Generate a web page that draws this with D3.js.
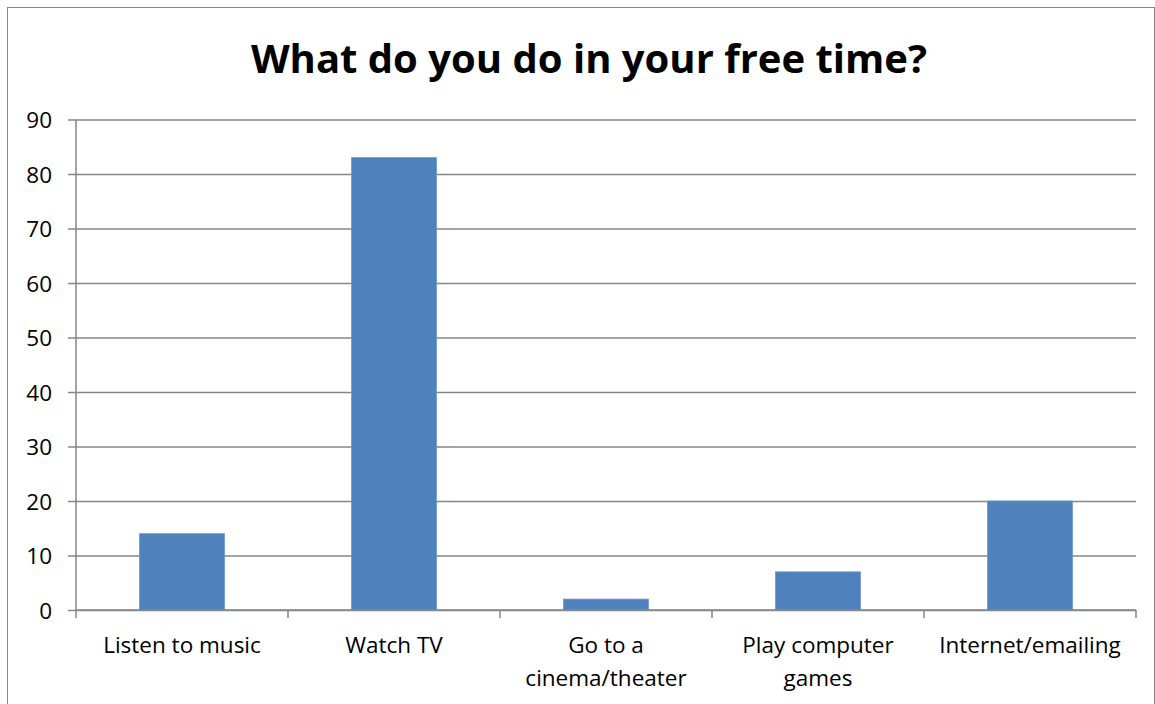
<!DOCTYPE html>
<html>
<head>
<meta charset="utf-8">
<script src="https://cdn.jsdelivr.net/npm/d3@7"></script>
<style>
  html, body { margin: 0; padding: 0; background: #fff; }
  svg { display: block; }
</style>
</head>
<body>
<svg id="chart" width="1155" height="704"></svg>
<script>
// Survey answers: free-time activities
const categories = [
  ["Listen to music"],
  ["Watch TV"],
  ["Go to a", "cinema/theater"],
  ["Play computer", "games"],
  ["Internet/emailing"]
];
const values = [14, 83, 2, 7, 20];
const yTicks = [0, 10, 20, 30, 40, 50, 60, 70, 80, 90];
const title = "What do you do in your free time?";

const svg = d3.select("#chart");
const W = 1155, H = 704;
const margin = { left: 76, right: 19, top: 119.5, bottom: 94 };
const fontFamily = "'Open Sans', 'Noto Sans', sans-serif";
const gridColor = "#868686";
const labelSize = 22.5;

// outer chart frame
svg.append("rect")
  .attr("x", 7.5).attr("y", 7.5)
  .attr("width", W - 8).attr("height", H)
  .attr("fill", "#fff")
  .attr("stroke", gridColor).attr("stroke-width", 1);

const x = d3.scaleBand()
  .domain(d3.range(categories.length))
  .range([margin.left, W - margin.right])
  .paddingInner(0.6).paddingOuter(0.3);

const xEdge = d3.scaleLinear()
  .domain([0, categories.length])
  .range([margin.left, W - margin.right]);

const y = d3.scaleLinear()
  .domain([0, 90])
  .range([H - margin.bottom, margin.top]);

// title
svg.append("text")
  .attr("x", 589).attr("y", 73)
  .attr("text-anchor", "middle")
  .attr("font-family", fontFamily)
  .attr("font-weight", "bold")
  .attr("font-size", 40)
  .attr("fill", "#000")
  .text(title);

// horizontal gridlines with left tick stubs
const yAxis = d3.axisLeft(y)
  .tickValues(yTicks)
  .tickSize(-(W - margin.right - margin.left))
  .tickSizeOuter(0)
  .tickPadding(24)
  .tickFormat(d3.format("d"));

const gY = svg.append("g")
  .attr("transform", `translate(${margin.left},0)`)
  .call(yAxis);
gY.select(".domain").remove();
gY.selectAll(".tick line")
  .attr("x1", -8)
  .attr("stroke", gridColor)
  .attr("stroke-width", 1.5);
gY.selectAll(".tick text")
  .attr("font-family", fontFamily)
  .attr("font-size", labelSize)
  .attr("fill", "#000")
  .attr("dy", "0.36em");

// vertical axis line
svg.append("line")
  .attr("x1", margin.left).attr("x2", margin.left)
  .attr("y1", y(90)).attr("y2", y(0))
  .attr("stroke", gridColor).attr("stroke-width", 1.5);

// bars
svg.append("g").selectAll("rect")
  .data(values)
  .join("rect")
  .attr("x", (d, i) => x(i))
  .attr("width", x.bandwidth())
  .attr("y", d => y(d))
  .attr("height", d => y(0) - y(d))
  .attr("fill", "#4F81BD")
  .attr("stroke", "#6d96c8")
  .attr("stroke-width", 0.8);

// category axis line and tick marks between groups
svg.append("line")
  .attr("x1", margin.left).attr("x2", W - margin.right)
  .attr("y1", y(0)).attr("y2", y(0))
  .attr("stroke", gridColor).attr("stroke-width", 1.5);

svg.append("g").selectAll("line")
  .data(d3.range(categories.length + 1))
  .join("line")
  .attr("x1", d => xEdge(d)).attr("x2", d => xEdge(d))
  .attr("y1", y(0)).attr("y2", y(0) + 8)
  .attr("stroke", gridColor).attr("stroke-width", 1.5);

// category labels
const labels = svg.append("g").selectAll("text")
  .data(categories)
  .join("text")
  .attr("x", (d, i) => x(i) + x.bandwidth() / 2)
  .attr("y", 653)
  .attr("text-anchor", "middle")
  .attr("font-family", fontFamily)
  .attr("font-size", labelSize)
  .attr("fill", "#000");
labels.selectAll("tspan")
  .data(d => d)
  .join("tspan")
  .attr("x", function () { return this.parentNode.getAttribute("x"); })
  .attr("dy", (d, i) => i === 0 ? 0 : 33)
  .text(d => d);
</script>
</body>
</html>
